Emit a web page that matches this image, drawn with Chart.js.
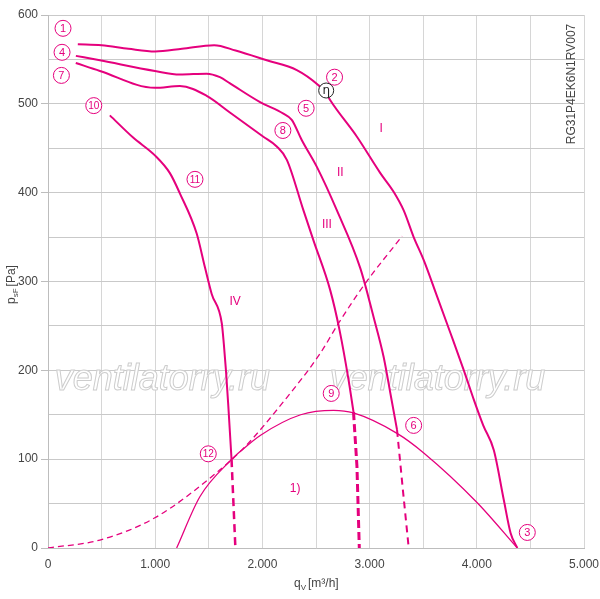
<!DOCTYPE html>
<html>
<head>
<meta charset="utf-8">
<script src="https://cdn.jsdelivr.net/npm/chart.js@4"></script>
<style>
html,body{margin:0;padding:0;background:#fff;}
#c{display:block;}
</style>
</head>
<body>
<canvas id="c" width="600" height="599"></canvas>
<script>
// ---- data (q in m³/h, p in Pa) ----
const curveI_q  = [278,500,750,1000,1250,1550,1750,2041,2321,2523,2595,2633,2882,3100,3224,3318,3411,3505,3630,3754,3879,3972,4060,4159,4252,4315,4378];
const curveI_p  = [567,566,562,559,562,566,560,549,538,521,512,504,463,422,401,380,350,324,283,242,200,167,138,110,54,17,0];

const curveII_q = [260,484,997,1230,1480,1604,1698,1978,2196,2274,2368,2508,2695,2913,3037,3131,3200,3256];
const curveII_p = [554,549,537,533,534,530,523,502,489,482,459,429,380,315,260,215,170,133];
const curveIIdash_q = [3256,3310,3365];
const curveIIdash_p = [133,66,0];

const curveIII_q = [259,484,997,1230,1480,1700,2009,2134,2228,2383,2477,2633,2720,2804,2850];
const curveIII_p = [546,537,518,520,509,490,463,452,437,380,346,290,245,189,153];
const curveIIIdash_q = [2850,2882,2904];
const curveIIIdash_p = [153,92,0];

const curveIV_q = [577,794,997,1137,1231,1387,1464,1527,1621,1640,1660,1682,1712];
const curveIV_p = [487,462,442,422,399,354,316,286,253,230,200,160,100];
const curveIVdash_q = [1712,1748];
const curveIVdash_p = [100,0];

const effCurve_q = [1200,1418,1707,1807,1983,2357,2664,2850,3256,3505,4004,4378];
const effCurve_p = [0,58,99,110,127,150,155,152,129,107,51,0];

const sysCurve_q = [0,484,997,1604,1838,2212,2539,2710,2960,3303];
const sysCurve_p = [0,9,34,88,114,167,219,253,298,351];

const xTicks = [0,1000,2000,3000,4000,5000];
const yTicks = [0,100,200,300,400,500,600];

// labels: [text, q, p]
const circleLabels = [
  ['1',140,585],['4',131,558],['7',125,532],['10',427,498],
  ['2',2673,530],['5',2408,495],['8',2191,470],['11',1371,415],
  ['9',2642,174],['6',3411,138],['3',4471,17.5],['12',1495,106]
];
const etaLabel = ['η',2595,515];
const textLabels = [['I',3107,472],['II',2726,422],['III',2602,364],['IV',1745,277],['1)',2306,67]];
const watermarkText = 'ventilatorry.ru';
const watermarkPos = [[1067,178],[3633,178]];
const sideCode = 'RG31P4EK6N1RV007';

// ---- helpers ----
const MAG = '#e5007d';
function pts(qs, ps){ return qs.map((q,i)=>({x:q,y:ps[i]})); }
function fmt(v){ return v===0 ? '0' : (v/1000)+'.000'; }

function ds(qs, ps, opts){
  return Object.assign({
    data: pts(qs,ps), borderColor: MAG, borderWidth: 2, pointRadius: 0,
    fill: false, cubicInterpolationMode: 'monotone', showLine: true
  }, opts||{});
}

const overlay = {
  id: 'overlay',
  beforeDatasetsDraw(chart){
    const {ctx, scales:{x,y}} = chart;
    ctx.save();
    ctx.font = 'italic 36px "Liberation Sans", Arial, sans-serif';
    ctx.textAlign = 'center';
    ctx.textBaseline = 'alphabetic';
    ctx.fillStyle = '#ffffff';
    ctx.strokeStyle = '#cdcdcd';
    ctx.lineWidth = 1;
    watermarkPos.forEach(([q,p])=>{
      const px = x.getPixelForValue(q), py = y.getPixelForValue(p);
      ctx.fillText(watermarkText, px, py);
      ctx.strokeText(watermarkText, px, py);
    });
    ctx.restore();
  },
  afterDatasetsDraw(chart){
    const {ctx, scales:{x,y}} = chart;
    ctx.save();
    ctx.textAlign = 'center';
    ctx.textBaseline = 'middle';
    circleLabels.forEach(([t,q,p])=>{
      const px = x.getPixelForValue(q), py = y.getPixelForValue(p);
      ctx.beginPath(); ctx.arc(px,py,8,0,Math.PI*2);
      ctx.fillStyle='#fff'; ctx.fill();
      ctx.strokeStyle=MAG; ctx.lineWidth=1; ctx.stroke();
      ctx.fillStyle=MAG;
      ctx.font = (t.length>1?'10px':'11px')+' "Liberation Sans", Arial, sans-serif';
      ctx.fillText(t, px, py+0.5);
    });
    {
      const [t,q,p] = etaLabel;
      const px = x.getPixelForValue(q), py = y.getPixelForValue(p);
      ctx.beginPath(); ctx.arc(px,py,7.5,0,Math.PI*2);
      ctx.fillStyle='#fff'; ctx.fill();
      ctx.strokeStyle='#222'; ctx.lineWidth=1; ctx.stroke();
      ctx.fillStyle='#222';
      ctx.font='12px "DejaVu Sans", sans-serif';
      ctx.fillText(t, px, py+0.5);
    }
    ctx.fillStyle = MAG;
    ctx.font = '12px "Liberation Sans", Arial, sans-serif';
    textLabels.forEach(([t,q,p])=>{
      ctx.fillText(t, x.getPixelForValue(q), y.getPixelForValue(p));
    });
    ctx.restore();
  },
  afterDraw(chart){
    const {ctx} = chart;
    ctx.save();
    ctx.fillStyle = '#444';
    ctx.textBaseline = 'alphabetic';
    ctx.textAlign = 'left';
    const f = '12px "Liberation Sans", Arial, sans-serif';
    const fs = '8px "Liberation Sans", Arial, sans-serif';
    let cx = 294, cy = 587;
    ctx.font = f; ctx.fillText('q', cx, cy); cx += ctx.measureText('q').width;
    ctx.font = fs; ctx.fillText('V', cx, cy+3); cx += ctx.measureText('V').width + 2;
    ctx.font = f; ctx.fillText('[m³/h]', cx, cy);
    ctx.translate(15, 304);
    ctx.rotate(-Math.PI/2);
    cx = 0; cy = 0;
    ctx.font = f; ctx.fillText('p', cx, cy); cx += ctx.measureText('p').width;
    ctx.font = fs; ctx.fillText('sF', cx, cy+3); cx += ctx.measureText('sF').width + 2;
    ctx.font = f; ctx.fillText('[Pa]', cx, cy);
    ctx.restore();
    ctx.save();
    ctx.fillStyle = '#444';
    ctx.font = '12px "Liberation Sans", Arial, sans-serif';
    ctx.textAlign = 'center';
    ctx.textBaseline = 'middle';
    ctx.translate(572, 84);
    ctx.rotate(-Math.PI/2);
    ctx.fillText(sideCode, 0, 0);
    ctx.restore();
  }
};

new Chart(document.getElementById('c'), {
  type: 'line',
  data: {
    datasets: [
      ds(sysCurve_q, sysCurve_p, {borderWidth:1.3, borderDash:[6,4]}),
      ds(effCurve_q, effCurve_p, {borderWidth:1.3}),
      ds(curveI_q, curveI_p),
      ds(curveII_q, curveII_p),
      ds(curveIIdash_q, curveIIdash_p, {borderDash:[7,5], cubicInterpolationMode:'default', tension:0}),
      ds(curveIII_q, curveIII_p),
      ds(curveIIIdash_q, curveIIIdash_p, {borderWidth:3, borderDash:[8,4], cubicInterpolationMode:'default', tension:0}),
      ds(curveIV_q, curveIV_p),
      ds(curveIVdash_q, curveIVdash_p, {borderWidth:2.5, borderDash:[8,5], cubicInterpolationMode:'default', tension:0})
    ]
  },
  options: {
    responsive: false,
    animation: false,
    events: [],
    layout: { padding: { top: 15, right: 1, left: 0, bottom: 0 } },
    plugins: { legend: {display:false}, tooltip: {enabled:false} },
    scales: {
      x: {
        type: 'linear', min: 0, max: 5000,
        afterBuildTicks(s){ const t=[]; for(let v=0; v<=5000; v+=500) t.push({value:v}); s.ticks=t; },
        ticks: {
          autoSkip: false, maxRotation: 0, padding: 9,
          color: '#444', font: {family:'"Liberation Sans", Arial, sans-serif', size:12},
          callback: v => xTicks.includes(v) ? fmt(v) : ''
        },
        grid: { color: '#d6d6d6', lineWidth: 1, drawTicks: false },
        border: { color: '#bdbdbd' },
        afterFit(s){ s.height = 51; s.paddingRight = 16; }
      },
      y: {
        type: 'linear', min: 0, max: 600,
        afterBuildTicks(s){ const t=[]; for(let v=0; v<=600; v+=50) t.push({value:v}); s.ticks=t; },
        ticks: {
          autoSkip: false, padding: 3,
          color: '#444', font: {family:'"Liberation Sans", Arial, sans-serif', size:12},
          callback: v => yTicks.includes(v) ? String(v) : ''
        },
        grid: {
          color: '#c9c9c9', lineWidth: 1, tickLength: 7,
          tickColor: c => (c.tick && yTicks.includes(c.tick.value)) ? '#bdbdbd' : 'rgba(0,0,0,0)'
        },
        border: { color: '#bdbdbd' },
        afterFit(s){ s.width = 48; }
      }
    }
  },
  plugins: [overlay]
});
</script>
</body>
</html>
